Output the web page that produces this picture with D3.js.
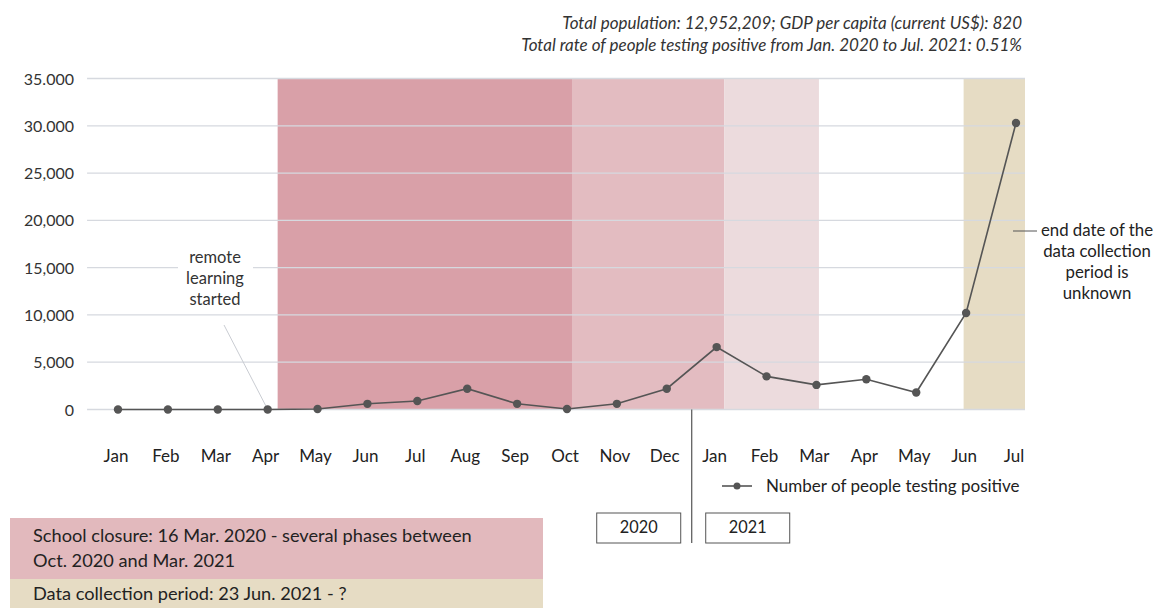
<!DOCTYPE html>
<html>
<head>
<meta charset="utf-8">
<script src="https://cdn.jsdelivr.net/npm/d3@7"></script>
<style>
  body { margin: 0; background: #fff; }
  svg { font-family: Lato, "Open Sans", sans-serif; }
</style>
</head>
<body>
<svg id="chart" width="1156" height="608"></svg>
<script>
// months shown on the x axis (Jan 2020 .. Jul 2021)
const months = ["Jan","Feb","Mar","Apr","May","Jun","Jul","Aug","Sep","Oct","Nov","Dec",
                "Jan","Feb","Mar","Apr","May","Jun","Jul"];
// number of people testing positive per month
const positives = [0, 0, 0, 0, 50, 600, 900, 2200, 600, 50, 600, 2200,
                   6600, 3500, 2600, 3200, 1800, 10200, 30300];
const yTicks = [0, 5000, 10000, 15000, 20000, 25000, 30000, 35000];
const yTickLabels = ["0", "5,000", "10,000", "15,000", "20,000", "25,000", "30.000", "35.000"];
// shaded periods, in month-index units
const periodStart = [3.2, 9.1, 12.15, 16.95];
const periodEnd = [9.1, 12.15, 14.05, 18.18];
const periodColor = ["#d9a0a8", "#e3bcc1", "#ecdbdd", "#e6dcc4"];
const years = ["2020", "2021"];

const svg = d3.select("#chart");

const x = d3.scaleLinear().domain([0, 18]).range([118, 1016]);
const y = d3.scaleLinear().domain([0, 35000]).range([409.5, 78.5]);
const gridLeft = x(-0.62), gridRight = x(18.18);

// header
const head = svg.append("g").attr("font-style", "italic").attr("font-size", 17)
  .attr("fill", "#333").attr("text-anchor", "end");
head.append("text").attr("x", 1022).attr("y", 29)
  .text("Total population: 12,952,209; GDP per capita (current US$): 820");
head.append("text").attr("x", 1022).attr("y", 51)
  .text("Total rate of people testing positive from Jan. 2020 to Jul. 2021: 0.51%");

// shaded periods
svg.append("g").selectAll("rect")
  .data(periodStart)
  .join("rect")
  .attr("x", d => x(d))
  .attr("width", (d, i) => x(periodEnd[i]) - x(d))
  .attr("y", y(35000))
  .attr("height", y(0) - y(35000))
  .attr("fill", (d, i) => periodColor[i]);

// grid
svg.append("g").selectAll("line")
  .data(yTicks)
  .join("line")
  .attr("x1", gridLeft).attr("x2", gridRight)
  .attr("y1", d => y(d)).attr("y2", d => y(d))
  .attr("stroke", "#d6d9df").attr("stroke-width", 1.3);

svg.append("g").selectAll("text")
  .data(yTicks)
  .join("text")
  .attr("x", 74).attr("y", d => y(d) + 6)
  .attr("text-anchor", "end").attr("font-size", 16).attr("fill", "#333")
  .text((d, i) => yTickLabels[i]);

// x labels
svg.append("g").selectAll("text")
  .data(months)
  .join("text")
  .attr("x", (d, i) => x(i) - 2).attr("y", 462)
  .attr("text-anchor", "middle").attr("font-size", 17).attr("fill", "#222")
  .text(d => d);

// annotation: remote learning started
const ann = svg.append("g");
ann.append("line")
  .attr("x1", 224).attr("y1", 325).attr("x2", x(3) - 1).attr("y2", y(0) - 2)
  .attr("stroke", "#c9ccd2").attr("stroke-width", 1);
ann.append("rect").attr("x", 178).attr("y", 246).attr("width", 75).attr("height", 66).attr("fill", "#fff");
["remote", "learning", "started"].forEach((t, i) => {
  ann.append("text").attr("x", 215).attr("y", 263 + i * 21)
    .attr("text-anchor", "middle").attr("font-size", 16.5).attr("fill", "#333").text(t);
});

// line + points
const line = d3.line().x((d, i) => x(i)).y(d => y(d));
svg.append("path").datum(positives)
  .attr("d", line).attr("fill", "none").attr("stroke", "#555").attr("stroke-width", 1.6);
svg.append("g").selectAll("circle")
  .data(positives)
  .join("circle")
  .attr("cx", (d, i) => x(i)).attr("cy", d => y(d)).attr("r", 4.2)
  .attr("fill", "#555");

// annotation: end date unknown
svg.append("line").attr("x1", 1013).attr("x2", 1037).attr("y1", 231).attr("y2", 231)
  .attr("stroke", "#555").attr("stroke-width", 1);
["end date of the", "data collection", "period is", "unknown"].forEach((t, i) => {
  svg.append("text").attr("x", 1097).attr("y", 236 + i * 21)
    .attr("text-anchor", "middle").attr("font-size", 16.8).attr("fill", "#222").text(t);
});

// year divider
const divX = (x(11) + x(12)) / 2;
svg.append("line").attr("x1", divX).attr("x2", divX).attr("y1", y(0)).attr("y2", 543)
  .attr("stroke", "#555").attr("stroke-width", 1.2);

const yearBoxes = svg.append("g").selectAll("g")
  .data(years)
  .join("g")
  .attr("transform", (d, i) => `translate(${i ? divX + 14 : divX - 95},513)`);
yearBoxes.append("rect").attr("width", 84).attr("height", 30)
  .attr("fill", "#fff").attr("stroke", "#555").attr("stroke-width", 1);
yearBoxes.append("text").attr("x", 42).attr("y", 20).attr("text-anchor", "middle")
  .attr("font-size", 16.3).attr("fill", "#222").text(d => d);

// legend
const leg = svg.append("g").attr("transform", "translate(722,486)");
leg.append("line").attr("x1", 0).attr("x2", 30).attr("stroke", "#555").attr("stroke-width", 1.6);
leg.append("circle").attr("cx", 15).attr("r", 3.5).attr("fill", "#555");
leg.append("text").attr("x", 44).attr("y", 6).attr("font-size", 17).attr("fill", "#222")
  .text("Number of people testing positive");

// bottom notes
svg.append("rect").attr("x", 10).attr("y", 518).attr("width", 533).attr("height", 61).attr("fill", "#e2b9bd");
svg.append("rect").attr("x", 10).attr("y", 579).attr("width", 533).attr("height", 29).attr("fill", "#e6dcc4");
const notes = [["School closure: 16 Mar. 2020 - several phases between", 542],
               ["Oct. 2020 and Mar. 2021", 567],
               ["Data collection period: 23 Jun. 2021 - ?", 600]];
svg.append("g").selectAll("text")
  .data(notes)
  .join("text")
  .attr("x", 33).attr("y", d => d[1])
  .attr("font-size", 18.2).attr("fill", "#222")
  .text(d => d[0]);
</script>
</body>
</html>
